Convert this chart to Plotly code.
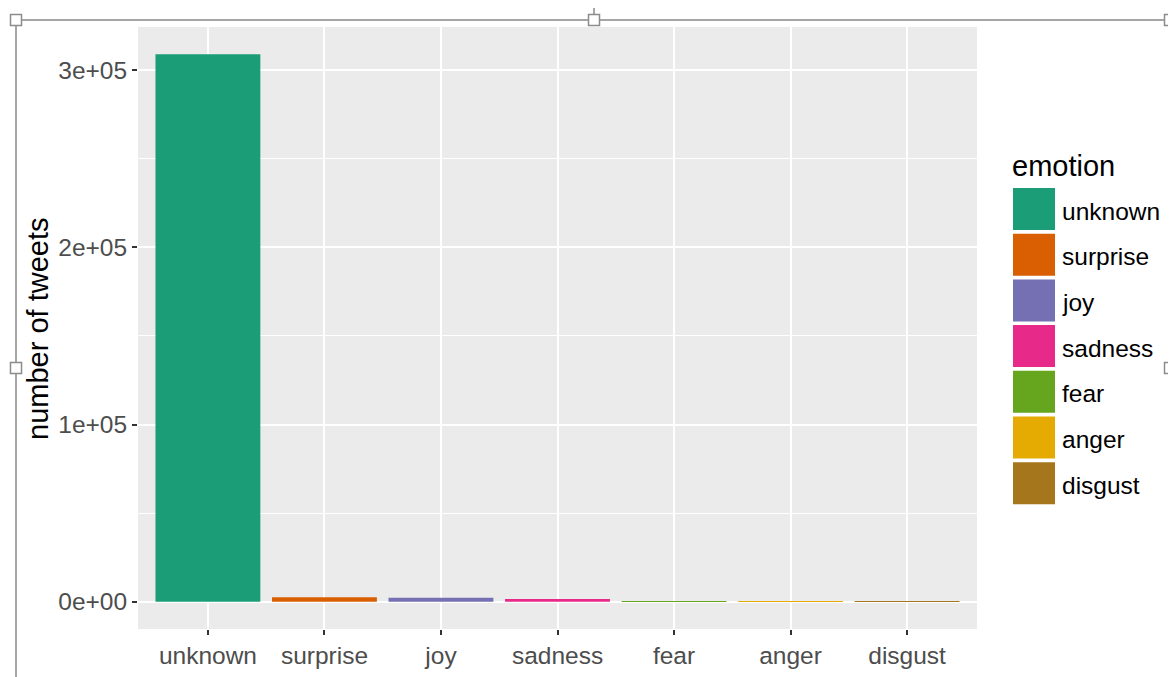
import plotly.graph_objects as go

# ---- data ----
emotions = ["unknown", "surprise", "joy", "sadness", "fear", "anger", "disgust"]
tweets = [309000, 2500, 2200, 1500, 60, 40, 30]
colors = ["#1B9E77", "#D95F02", "#7570B3", "#E7298A", "#66A61E", "#E6AB02", "#A6761D"]
ytick_vals = [0, 100000, 200000, 300000]
ytick_text = ["0e+00", "1e+05", "2e+05", "3e+05"]

# the page body has an 8px margin; work in reference pixel coordinates
OFF = 8
W, H = 1176 - OFF, 677 - OFF
ML, MT = 138 - OFF, 27 - OFF
MR, MB = W - (977 - OFF), H - (629 - OFF)
PW, PH = W - ML - MR, H - MT - MB

def px(x):
    return (x - OFF - ML) / PW

def py(y):
    return (H - MB - (y - OFF)) / PH

FONT = "Liberation Sans, Arial, sans-serif"
TICK = 24.5
TITLE = 29

fig = go.Figure()
fig.add_trace(go.Bar(
    x=emotions, y=tweets, marker=dict(color=colors, line=dict(width=0)),
    width=0.9, showlegend=False, hoverinfo="x+y"))

fig.update_layout(
    width=W, height=H,
    margin=dict(l=ML, r=MR, t=MT, b=MB, pad=0, autoexpand=False),
    paper_bgcolor="white", plot_bgcolor="#EBEBEB",
    font=dict(family=FONT, size=TICK, color="#4D4D4D"),
    xaxis=dict(
        range=[-0.6, 6.6], showgrid=True, gridcolor="white", gridwidth=2,
        zeroline=False, showline=False, automargin=False,
        ticks="outside", ticklen=5, tickwidth=2, tickcolor="#333333",
        tickfont=dict(size=TICK, color="#4D4D4D", family=FONT),
    ),
    yaxis=dict(
        range=[-max(tweets) * 0.05, max(tweets) * 1.05],
        showgrid=True, gridcolor="white", gridwidth=2,
        zeroline=False, showline=False, automargin=False,
        tickvals=ytick_vals, ticktext=ytick_text,
        ticks="outside", ticklen=5, tickwidth=2, tickcolor="#333333",
        tickfont=dict(size=TICK, color="#4D4D4D", family=FONT),
        minor=dict(tickvals=[50000, 150000, 250000], showgrid=True,
                   gridcolor="white", gridwidth=1, ticks=""),
    ),
)

annotations = []
shapes = []

# y-axis title
annotations.append(dict(
    x=px(38), y=py(329), xref="paper", yref="paper", text="number of tweets",
    textangle=-90, showarrow=False, xanchor="center", yanchor="middle",
    font=dict(size=TITLE, color="black", family=FONT)))

# manual ggplot-style legend
annotations.append(dict(
    x=px(1010), y=py(166), xref="paper", yref="paper", text="emotion",
    showarrow=False, xanchor="left", yanchor="middle",
    font=dict(size=TITLE, color="black", family=FONT)))
for i, (name, col) in enumerate(zip(emotions, colors)):
    top = 188 + i * 45.7
    shapes.append(dict(
        type="rect", xref="paper", yref="paper",
        x0=px(1013), x1=px(1055), y0=py(top), y1=py(top + 42),
        fillcolor=col, line=dict(width=0)))
    annotations.append(dict(
        x=px(1060), y=py(top + 23), xref="paper", yref="paper", text=name,
        showarrow=False, xanchor="left", yanchor="middle",
        font=dict(size=TICK, color="black", family=FONT)))

# selection frame around the picture
FR = "#A6A6A6"
RX = 1170
shapes.append(dict(type="line", xref="paper", yref="paper",
                   x0=px(16), x1=px(RX), y0=py(20), y1=py(20),
                   line=dict(color=FR, width=2)))
shapes.append(dict(type="line", xref="paper", yref="paper",
                   x0=px(16), x1=px(16), y0=py(20), y1=py(677),
                   line=dict(color=FR, width=2)))
shapes.append(dict(type="line", xref="paper", yref="paper",
                   x0=px(RX), x1=px(RX), y0=py(20), y1=py(677),
                   line=dict(color=FR, width=2)))
shapes.append(dict(type="line", xref="paper", yref="paper",
                   x0=px(594), x1=px(594), y0=py(8), y1=py(14),
                   line=dict(color=FR, width=2)))
for hx, hy in [(16, 20), (594, 20), (RX, 20), (16, 368), (RX, 368)]:
    shapes.append(dict(type="rect", xref="paper", yref="paper",
                       x0=px(hx - 5.5), x1=px(hx + 5.5), y0=py(hy - 5.5), y1=py(hy + 5.5),
                       fillcolor="white", line=dict(color="#8C8C8C", width=1.5)))

fig.update_layout(annotations=annotations, shapes=shapes)
fig.write_html("out.html")
